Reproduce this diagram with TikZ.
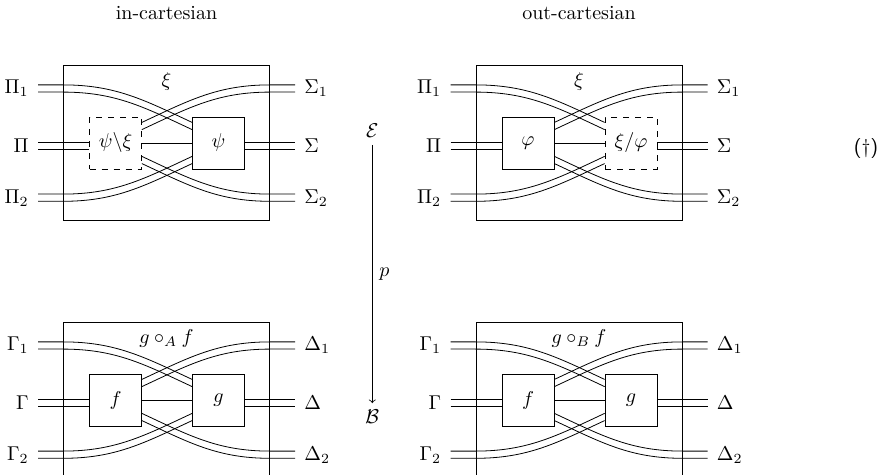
\documentclass[tikz,border=0pt]{standalone}

\tikzset{
  cartbox/.style={draw, minimum width=103pt, minimum height=77.2pt},
  blk/.style={draw, minimum size=26pt, inner sep=0pt},
  dblk/.style={blk, dashed},
  lab/.style={inner sep=4.5pt},
  wire/.style={transform canvas={yshift=#1}},
}

\begin{document}
\begin{tikzpicture}[x=0.5pt,y=-0.5pt]
			\useasboundingbox (0,0) rectangle (893,475);
			\clip (0,0) rectangle (893,475);
			
			\node[anchor=base] (hin) at (166.5,20) {in-cartesian};
			\node[anchor=base] (hout) at (579,20) {out-cartesian};
			
			\foreach \pn/\dx/\dy/\lft/\rgt/\ttl/\atxt/\btxt/\asty/\bsty in {
				tl/0/0/\Pi/\Sigma/\xi/{\psi\backslash\xi}/\psi/dblk/blk,
				tr/412.5/0/\Pi/\Sigma/\xi/\varphi/{\xi/\varphi}/blk/dblk,
				bl/0/257/\Gamma/\Delta/{g\circ_A f}/f/g/blk/blk,
				br/412.5/257/\Gamma/\Delta/{g\circ_B f}/f/g/blk/blk}{
			\begin{scope}[shift={(\dx,\dy)}]
				\node[cartbox] (cart\pn) at (166.5,142.85) {};
				\node[anchor=north] (ttl\pn) at (cart\pn.north) {$\ttl$};
				
				\node[\asty] (lb\pn) at (115.5,143) {$\atxt$};
				\node[\bsty] (rb\pn) at (218.5,143) {$\btxt$};
				
				\node[lab,anchor=east] (in1\pn) at (38,88.5) {$\lft_1$};
				\node[lab,anchor=east] (in\pn) at (38,146) {$\lft$};
				\node[lab,anchor=east] (in2\pn) at (38,197.7) {$\lft_2$};
				\node[lab,anchor=west] (out1\pn) at (295,88.5) {$\rgt_1$};
				\node[lab,anchor=west] (out\pn) at (295,146) {$\rgt$};
				\node[lab,anchor=west] (out2\pn) at (295,197.7) {$\rgt_2$};
				
				\foreach \s in {1.8pt,-1.8pt}{
					\draw[wire=\s] (in1\pn.east) -- (in1\pn.east -| cart\pn.west) to[out=0,in=155] ([yshift=8.5pt]rb\pn.west);
					\draw[wire=\s] (in2\pn.east) -- (in2\pn.east -| cart\pn.west) to[out=0,in=205] ([yshift=-8.5pt]rb\pn.west);
					\draw[wire=\s] ([yshift=8.5pt]lb\pn.east) to[out=25,in=180] (out1\pn.west -| cart\pn.east) -- (out1\pn.west);
					\draw[wire=\s] ([yshift=-8.5pt]lb\pn.east) to[out=-25,in=180] (out2\pn.west -| cart\pn.east) -- (out2\pn.west);
					\draw[wire=\s] (in\pn.east) -- (in\pn.east -| lb\pn.west);
					\draw[wire=\s] (rb\pn.east |- out\pn.west) -- (out\pn.west);
				}
				\draw (lb\pn) -- (rb\pn);
			\end{scope}
			}
			
			\node (E) at (372.3,131) {$\mathcal{E}$};
			\node (B) at (372.3,417) {$\mathcal{B}$};
			\draw[->] (E) -- (B) node[midway,right] (p) {$p$};
			
			\node (dag) at (866,149) {\textsf{(\textdagger)}};
		\end{tikzpicture}
\end{document}
